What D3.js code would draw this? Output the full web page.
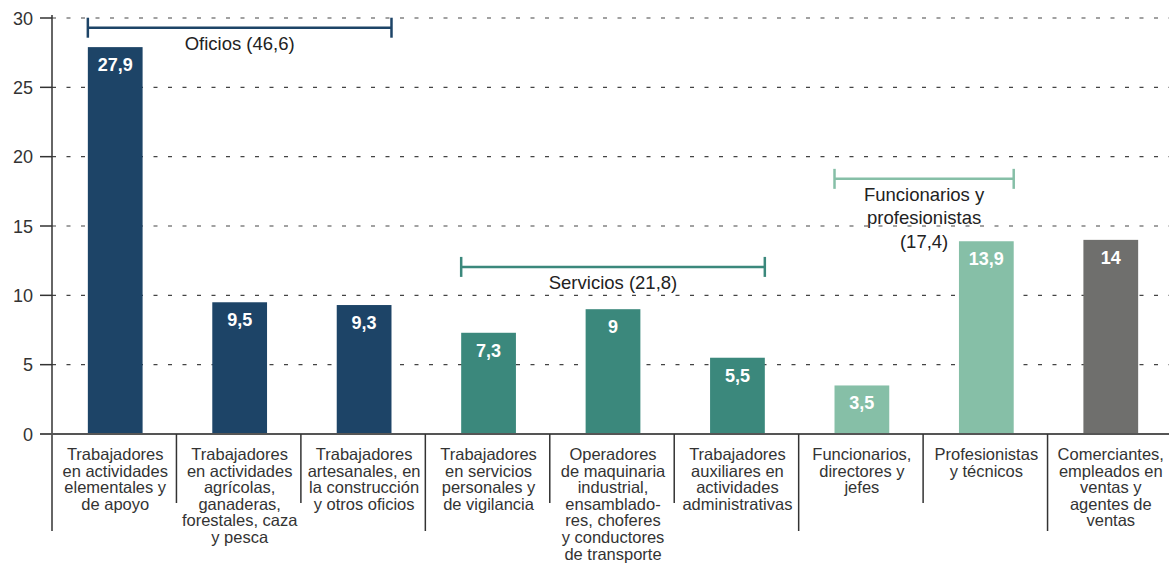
<html>
<head>
<meta charset="UTF-8">
<script src="https://cdn.jsdelivr.net/npm/d3@7"></script>
<style>
  body { margin: 0; background: #fff; }
  text { font-family: "Liberation Sans", Arial, sans-serif; }
</style>
</head>
<body>
<div id="chart"></div>
<script>
// data
var categories = [
  ["Trabajadores", "en actividades", "elementales y", "de apoyo"],
  ["Trabajadores", "en actividades", "agrícolas,", "ganaderas,", "forestales, caza", "y pesca"],
  ["Trabajadores", "artesanales, en", "la construcción", "y otros oficios"],
  ["Trabajadores", "en servicios", "personales y", "de vigilancia"],
  ["Operadores", "de maquinaria", "industrial,", "ensamblado-", "res, choferes", "y conductores", "de transporte"],
  ["Trabajadores", "auxiliares en", "actividades", "administrativas"],
  ["Funcionarios,", "directores y", "jefes"],
  ["Profesionistas", "y técnicos"],
  ["Comerciantes,", "empleados en", "ventas y", "agentes de", "ventas"]
];
var values = [27.9, 9.5, 9.3, 7.3, 9, 5.5, 3.5, 13.9, 14];
var valueLabels = ["27,9", "9,5", "9,3", "7,3", "9", "5,5", "3,5", "13,9", "14"];
var groupOf = [0, 0, 0, 1, 1, 1, 2, 2, 3];
var groupNames = [["Oficios (46,6)"], ["Servicios (21,8)"], ["Funcionarios y", "profesionistas", "(17,4)"]];
var groupFirst = [0, 3, 6];
var groupLast = [2, 5, 7];
var yTicks = [0, 5, 10, 15, 20, 25, 30];

var colors = ["#1d4467", "#3b887c", "#86bfa7", "#6f6f6d"];
var W = 1169, H = 565;
var svg = d3.select("#chart").append("svg").attr("width", W).attr("height", H);

var idx = d3.range(values.length);
var x = d3.scaleBand().domain(idx).range([53, 1173]).paddingInner(0.56).paddingOuter(0.28);
var y = d3.scaleLinear().domain([0, 30]).range([434, 18]);
var step = x.step();

// grid
svg.selectAll(".grid").data(yTicks.filter(function(d){ return d > 0; })).enter().append("line")
  .attr("x1", 52).attr("x2", W).attr("y1", function(d){ return y(d); }).attr("y2", function(d){ return y(d); })
  .style("stroke", "#444").style("stroke-width", 1.2).style("stroke-dasharray", "4,10.5");

// bars
svg.selectAll(".bar").data(idx).enter().append("rect")
  .attr("x", function(i){ return x(i); }).attr("width", x.bandwidth())
  .attr("y", function(i){ return y(values[i]); }).attr("height", function(i){ return y(0) - y(values[i]); })
  .style("fill", function(i){ return colors[groupOf[i]]; });

svg.selectAll(".val").data(idx).enter().append("text")
  .attr("x", function(i){ return x(i) + x.bandwidth() / 2; })
  .attr("y", function(i){ return y(values[i]) + 24; })
  .attr("text-anchor", "middle").style("font-size", "18px").style("font-weight", "bold").style("fill", "#fff")
  .text(function(i){ return valueLabels[i]; });

// y axis
svg.append("line").attr("x1", 52).attr("x2", 52).attr("y1", 15).attr("y2", 531).style("stroke", "#333").style("stroke-width", 1.5);
svg.selectAll(".tick").data(yTicks).enter().append("line")
  .attr("x1", 40).attr("x2", 52).attr("y1", function(d){ return y(d); }).attr("y2", function(d){ return y(d); })
  .style("stroke", "#333").style("stroke-width", 1.5);
svg.selectAll(".tl").data(yTicks).enter().append("text")
  .attr("x", 33).attr("y", function(d){ return y(d) + 6.5; }).attr("text-anchor", "end")
  .style("font-size", "18px").style("fill", "#333").text(function(d){ return d; });

// zero line
svg.append("line").attr("x1", 40).attr("x2", W).attr("y1", y(0)).attr("y2", y(0)).style("stroke", "#555").style("stroke-width", 2);

// category separators
var sepLong = [3, 6, 8];
d3.range(1, 9).forEach(function(k){
  var sx = 52 + k * step;
  svg.append("line").attr("x1", sx).attr("x2", sx).attr("y1", y(0)).attr("y2", sepLong.indexOf(k) >= 0 ? 531 : 503)
    .style("stroke", "#333").style("stroke-width", 1.5);
});

// category labels
idx.forEach(function(i){
  var t = svg.append("text").attr("text-anchor", "middle").style("font-size", "16.5px").style("fill", "#333");
  categories[i].forEach(function(line, j){
    t.append("tspan").attr("x", x(i) + x.bandwidth() / 2).attr("y", 460 + j * 16.6).text(line);
  });
});

// group brackets
var levels = [29.3, 12.05, 18.4];
groupNames.forEach(function(g, k){
  var x1 = x(groupFirst[k]), x2 = x(groupLast[k]) + x.bandwidth(), by = y(levels[k]);
  var c = colors[k];
  svg.append("line").attr("x1", x1).attr("x2", x2).attr("y1", by).attr("y2", by).style("stroke", c).style("stroke-width", 2.5);
  [x1, x2].forEach(function(bx){
    svg.append("line").attr("x1", bx).attr("x2", bx).attr("y1", by - 10).attr("y2", by + 10).style("stroke", c).style("stroke-width", 2.5);
  });
  var t = svg.append("text").attr("text-anchor", "middle").style("font-size", "18.5px").style("fill", "#222");
  g.forEach(function(line, j){
    t.append("tspan").attr("x", (x1 + x2) / 2).attr("y", by + 22 + j * 23.5).text(line);
  });
});
</script>
</body>
</html>
